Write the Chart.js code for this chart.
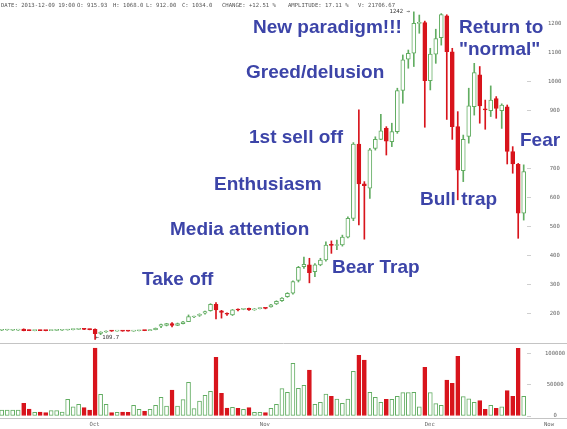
<!DOCTYPE html>
<html><head><meta charset="utf-8">
<script src="https://cdn.jsdelivr.net/npm/chart.js@4"></script>
<style>html,body{margin:0;padding:0;background:#fff;overflow:hidden}canvas{display:block}</style>
</head><body>
<canvas id="c" width="567" height="429"></canvas>
<script>
// ---- data (daily candles) ----
const openP = [141,142,141,141.5,145,141,140,141,140.5,140,
140.5,141,142,143,144,145.5,144.5,144.5,130,135,
139,138,139,138.5,138,139.5,141,140,143,155,
158,164,158,164,171,187,192,200,209,231,
208,200,194,212,213.5,217,211,216,217.5,222,
232,243.6,257.5,269,313,361,367,344,367,384,
438,434,436,463,528,785,647,632,770,801,
839,793,828,970,1078,1099,1202,1205,1004,1096,
1153,1228,1104,845,693,811,914,1024,905,900,
942,900,914,759,715,546];
const highP = [143,143.5,143,143,146,142,141.5,141.5,141,141.5,
142,142.5,144,145,146,146.5,145.5,146,136,139,
139.5,139.5,139.5,139,140,141,141.5,143.5,149,162,
165,167.5,166,172,194,190,198,207,233,237,
210,201,213,215,216.5,218,216,218.5,218.5,231,
243,254,271,312,362,394,390,372,390,447,
450,453,470,533,790,903,655,770,810,888,
845,857,978,1093,1110,1242,1231,1210,1116,1182,
1236,1232,1116,897,816,978,1064,1053,937,986,
949,924,920,776,718,713];
const lowP = [140,141,140.5,140.5,139,139.5,139,139.5,139,139.5,
140,140.5,141.5,142.5,143.5,143.5,142.5,109.7,126,134,
137,137.5,137.5,137.5,137.5,139,139.5,139.5,142.5,150,
156,152.5,157,163,172,185,189,197,207,180,
183,192,192,208,212,210,210,214.5,215,221,
230,241,255,266,308,355,305,326,364,380,
407,420,432,460,520,505,456,597,764,800,
747,776,822,926,1047,1053,1168,843,972,1064,
1127,870,801,592,655,788,885,857,836,880,
874,839,716,684,459,522];
const closeP = [142,142.5,142,142.5,140,140,141,140,140,141,
141.5,142,143.5,144.5,145.5,144,143,129.6,135,138.5,
138,139,138,138,139.5,140.5,140,143,148,160.5,
164,158,164,170,188,189,196.5,205.5,231,211.5,
203,196.5,211.5,211,215,211.5,215,217.5,216.5,229,
241.5,252,269,309,359,369,340,367,384,436,
434,437,463,528,785,647,641,764.5,801,831,
795,828,970,1076,1099,1202,1205,1004,1096,1150,
1233,1104,845,695,801,917,1032,917,903,937,
908,920,759,716,546,690];
const volume = [9700,9700,9700,9700,20400,11300,5900,6500,5400,8600,
8600,6500,26900,15000,18800,13400,9700,109700,35000,18800,
5400,5900,6500,5900,17200,10700,7500,10700,17200,30100,
16100,41900,16100,26300,54300,11800,24200,33300,39800,94600,
36600,12900,14000,12400,10700,13400,5900,5900,5400,12400,
18800,44100,38200,84900,44600,49500,74200,18800,22000,35500,
31700,27400,20400,27400,72000,97800,90300,38200,30100,22000,
26900,26900,31700,37600,37600,38200,15000,78500,37600,19900,
17200,58000,52700,96200,31200,27900,22000,24700,10700,17200,
12400,15000,40900,31700,109100,31700];

const priceTicks = [200,300,400,500,600,700,800,900,1000,1100,1200];
const volumeTicks = [0,50000,100000];
const monthLabels = ['Oct','Nov','Dec'];
const monthTickIndex = [16.9,47.9,77.9];
const nowLabel = 'Now';
const headerFields = ['DATE: 2013-12-09 19:00','O: 915.93','H: 1068.0','L: 912.00','C: 1034.0','CHANGE: +12.51 %','AMPLITUDE: 17.11 %','V: 21706.67'];
const phaseLabels = ['Take off','Media attention','Enthusiasm','1st sell off','Greed/delusion','New paradigm!!!','Return to','"normal"','Bull trap','Bear Trap','Fear'];

// ---- layout / style (not data) ----
const LAYOUT = {
  headerX: [1,77,113,146,182,222,288,358], headerY: 5.5,
  phaseXY: [[142,285],[170,235],[214,190],[249,143],[246,78],[253,33],[459,33],[459,55],[420,205],[332,273],[520,146]],
  nowX: 549, nowY: 424.5
};
const GREEN = '#62ad62', RED = '#d8141c', BLUE = '#3c44a8';
const MONO = '"DejaVu Sans Mono", monospace';

const idx = openP.map((_, i) => i);
const up = idx.map(i => closeP[i] >= openP[i]);

const overlay = {
  id: 'overlay',
  afterDraw(chart) {
    const ctx = chart.ctx;
    const xs = chart.scales.x, ps = chart.scales.price;
    ctx.save();
    ctx.strokeStyle = '#c4c4c4'; ctx.lineWidth = 1;
    [ps.bottom, xs.top].forEach(y => {
      const yy = Math.round(y) + 0.5;
      ctx.beginPath(); ctx.moveTo(0, yy); ctx.lineTo(chart.width, yy); ctx.stroke();
    });
    ctx.font = '5.6px ' + MONO; ctx.fillStyle = '#555';
    ctx.textBaseline = 'middle'; ctx.textAlign = 'left';
    headerFields.forEach((t, i) => ctx.fillText(t, LAYOUT.headerX[i], LAYOUT.headerY));
    ctx.fillStyle = '#666'; ctx.textAlign = 'center';
    ctx.fillText(nowLabel, LAYOUT.nowX, LAYOUT.nowY);
    // extremes
    const hi = Math.max(...highP), iHi = highP.indexOf(hi);
    const lo = Math.min(...lowP), iLo = lowP.indexOf(lo);
    ctx.fillStyle = '#333';
    ctx.textAlign = 'right';
    ctx.fillText(hi + ' \u2192', xs.getPixelForValue(iHi) - 4, ps.getPixelForValue(hi));
    ctx.textAlign = 'left';
    ctx.fillText('\u2190 ' + lo, xs.getPixelForValue(iLo) + 0.5, ps.getPixelForValue(lo) - 1.5);
    // phase annotations
    ctx.font = 'bold 19px "Liberation Sans", Arial, sans-serif';
    ctx.textBaseline = 'alphabetic';
    phaseLabels.forEach((t, i) => {
      const [x, y] = LAYOUT.phaseXY[i];
      if (t === 'Fear') {
        ctx.fillStyle = '#fff';
        ctx.fillRect(x - 1, y - 15, ctx.measureText(t).width + 4, 18);
      }
      ctx.fillStyle = BLUE;
      ctx.fillText(t, x, y);
    });
    ctx.restore();
  }
};

const tickFont = {family: 'DejaVu Sans Mono', size: 5.6};
const fitY = s => { s.width = 40; s.paddingTop = 0; s.paddingBottom = 0; };

new Chart(document.getElementById('c'), {
  type: 'bar',
  data: {
    datasets: [
      {
        label: 'body', yAxisID: 'price', order: 0, grouped: false,
        data: idx.map(i => ({x: i, y: [openP[i], closeP[i]]})),
        backgroundColor: up.map(u => u ? '#ffffff' : RED),
        borderColor: up.map(u => u ? GREEN : RED),
        borderWidth: 1, borderSkipped: false, barThickness: 4, minBarLength: 1
      },
      {
        label: 'wick', yAxisID: 'price', order: 1, grouped: false,
        data: idx.map(i => ({x: i, y: [lowP[i], highP[i]]})),
        backgroundColor: up.map(u => u ? GREEN : RED),
        borderWidth: 0, barThickness: 1
      },
      {
        label: 'volume', yAxisID: 'vol', order: 2, grouped: false,
        data: idx.map(i => ({x: i, y: volume[i]})),
        backgroundColor: up.map(u => u ? '#ffffff' : RED),
        borderColor: up.map(u => u ? GREEN : RED),
        borderWidth: 1, borderSkipped: false, barThickness: 4
      }
    ]
  },
  options: {
    responsive: false, animation: false,
    layout: {padding: 0},
    plugins: {legend: {display: false}, tooltip: {enabled: false}, title: {display: false}},
    scales: {
      x: {
        type: 'linear', min: -0.31, max: 95.6, offset: false,
        grid: {display: false, drawTicks: false}, border: {display: false},
        afterBuildTicks: s => { s.ticks = monthTickIndex.map(v => ({value: v})); },
        ticks: {autoSkip: false, maxRotation: 0, padding: 3, font: tickFont, color: '#666',
                callback: (v, i) => monthLabels[i]},
        afterFit: s => { s.height = 11; s.paddingLeft = 0; s.paddingRight = 0; }
      },
      price: {
        type: 'linear', position: 'right', stack: 'right', stackWeight: 343, min: 97, max: 1283,
        afterBuildTicks: s => { s.ticks = priceTicks.map(v => ({value: v})); },
        grid: {drawOnChartArea: false, tickLength: 4, color: '#cfcfcf'}, border: {display: false},
        ticks: {padding: 17, crossAlign: 'center', font: tickFont, color: '#666', callback: v => String(v)},
        afterFit: fitY
      },
      vol: {
        type: 'linear', position: 'right', stack: 'right', stackWeight: 75, min: -3200, max: 117700,
        afterBuildTicks: s => { s.ticks = volumeTicks.map(v => ({value: v})); },
        grid: {drawOnChartArea: false, tickLength: 4, color: '#cfcfcf'}, border: {display: false},
        ticks: {padding: 14, crossAlign: 'center', font: tickFont, color: '#666', callback: v => String(v)},
        afterFit: fitY
      }
    }
  },
  plugins: [overlay]
});
</script>
</body></html>
